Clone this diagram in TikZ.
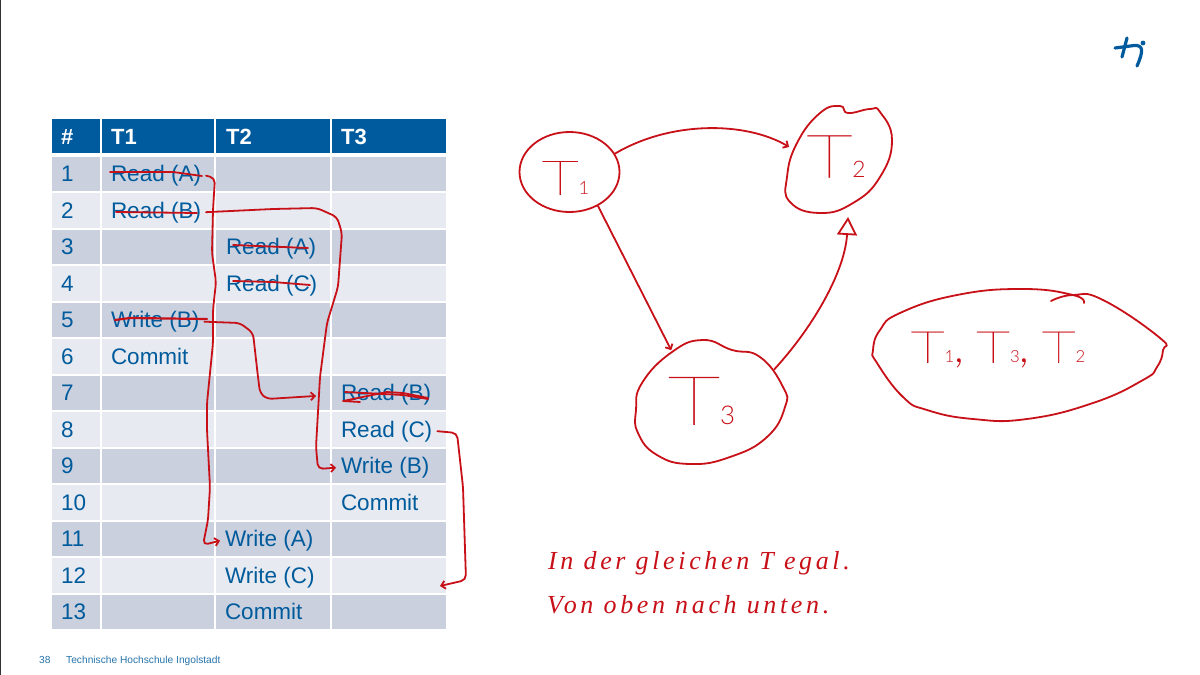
\documentclass[tikz,border=0pt]{standalone}
\usepackage{fontspec}
\setmainfont{Liberation Sans}
\newfontfamily\penfont[FakeBold=0.6]{Lato Thin}
\newfontfamily\digitfont{Lato Light}
\newfontfamily\notefont[LetterSpace=14]{Liberation Serif Italic}
\usetikzlibrary{arrows.meta,shapes.geometric}
\definecolor{headblue}{RGB}{0,90,158}
\definecolor{textblue}{RGB}{0,91,156}
\definecolor{rowdark}{RGB}{202,208,222}
\definecolor{rowlight}{RGB}{231,234,240}
\definecolor{pen}{RGB}{200,16,24}
\tikzstyle{cell}=[anchor=base west, inner sep=0pt, outer xsep=5pt, text=textblue, font=\fontsize{22.5}{24}\selectfont]
\tikzstyle{head}=[anchor=base west, inner sep=0pt, text=white, font=\bfseries\fontsize{22}{24}\selectfont]
\tikzstyle{ink}=[draw=pen, line width=1.8pt, line cap=round, line join=round]
\tikzstyle{wire}=[ink, rounded corners=5pt, -{Straight Barb[length=4pt,width=8pt]}]
\tikzstyle{gnode}=[ellipse, inner sep=0pt, text=pen, text centered]
\newcommand{\penT}[1]{\scalebox{1.35}[1]{T}\scalebox{.38}{\digitfont #1}}
\newcommand{\penmove}[3]{\raisebox{#2}[\height][\depth]{\kern#1\relax #3}}

\begin{document}
\begin{tikzpicture}[x=1pt, y=-1pt]
            \useasboundingbox (0,0) rectangle (1200,675);
            \fill[white] (0,0) rectangle (1200,675);
            \draw[black!80, line width=1.6pt] (0,0) -- (0,675);

            \fill[headblue] (52,119) rectangle (100,153);
            \fill[headblue] (102,119) rectangle (214,153);
            \fill[headblue] (216,119) rectangle (330,153);
            \fill[headblue] (332,119) rectangle (446,153);
            \node[head] (hnum) at (61,144) {\#};
            \node[head] (hone) at (111,144) {T1};
            \node[head] (htwo) at (226,144) {T2};
            \node[head] (hthree) at (341,144) {T3};

            \foreach \r in {1,...,13} {
                \pgfmathsetmacro{\rowtop}{156.5+(\r-1)*36.5}
                \pgfmathsetmacro{\rowbot}{\rowtop+34.8}
                \pgfmathsetmacro{\rowbase}{\rowtop+25}
                \pgfmathparse{int(mod(\r,2))}
                \ifnum\pgfmathresult=1 \colorlet{rowfill}{rowdark}\else \colorlet{rowfill}{rowlight}\fi
                \fill[rowfill] (52,\rowtop) rectangle (100,\rowbot);
                \fill[rowfill] (102,\rowtop) rectangle (214,\rowbot);
                \fill[rowfill] (216,\rowtop) rectangle (330,\rowbot);
                \fill[rowfill] (332,\rowtop) rectangle (446,\rowbot);
                \node[cell] (num\r) at (56,\rowbase) {\r};
            }

            \node[cell] (ra) at (106,181.5) {Read (A)};
            \node[cell] (rb) at (106,218) {Read (B)};
            \node[cell] (wb) at (106,327.5) {Write (B)};
            \node[cell] (cone) at (106,364) {Commit};
            \node[cell] (rat) at (221,254.5) {Read (A)};
            \node[cell] (rct) at (221,291) {Read (C)};
            \node[cell] (wat) at (220,546.5) {Write (A)};
            \node[cell] (wct) at (220,583) {Write (C)};
            \node[cell] (ctwo) at (220,619.5) {Commit};
            \node[cell] (rbh) at (336,400.5) {Read (B)};
            \node[cell] (rch) at (336,437) {Read (C)};
            \node[cell] (wbh) at (336,473.5) {Write (B)};
            \node[cell] (cthree) at (336,510) {Commit};

            \node[anchor=base west, inner sep=0pt, text=textblue!85, font=\fontsize{10.2}{12}\selectfont] (pageno) at (39,663) {38};
            \node[anchor=base west, inner sep=0pt, text=textblue!85, font=\fontsize{10.2}{12}\selectfont] (footer) at (66,663) {Technische Hochschule Ingolstadt};

            \draw[ink] (110,172) -- (173,172) -- (202,176);
            \draw[ink] (116,212) -- (197,213);
            \draw[ink] (233,245) -- (308,248);
            \draw[ink] (233,281) -- (273,282) -- (310,285);
            \draw[ink, line width=2.2pt] (115,320) -- (130,318) -- (207,319);
            \draw[ink] (345,392) -- (403,395) -- (428,399);
            \draw[ink] (360,402) -- (343,401) -- (387,392) -- (403,393) -- (428,398);

            \draw[wire] (ra.east) -- (215,178) -- (213,210) -- (212,253) -- (216,282) -- (213,310)
                -- (213,343) -- (207,403) -- (207,430) -- (210,487) -- (208,520) -- (203,545) -- (wat.west);
            \draw[wire] (rb.east) -- (273,209) -- (317,208) -- (337,217) -- (342,233) -- (338,287)
                -- (327,323) -- (320,377) -- (316,447) -- (318,469) -- (wbh.west);
            \draw[wire, shorten >=20pt] (wb.east) -- (240,323) -- (253,333) -- (258,377) -- (260,393)
                -- (267,399) -- (rbh.west);
            \coordinate (freeend) at (440,586);
            \draw[wire] (rch.east) -- (457,433) -- (463,487) -- (466,580) -- (freeend);

            \node[gnode, draw=pen, line width=1.8pt, minimum width=100pt, minimum height=80pt, font=\penfont\fontsize{48}{48}\selectfont] (tone) at (569.5,172) {\penmove{-8pt}{-6pt}{\penT{1}}};
            \node[gnode, minimum width=100pt, minimum height=116pt, font=\penfont\fontsize{60}{60}\selectfont] (ttwo) at (838,160) {\penmove{-4pt}{3.5pt}{\penT{2}}};
            \node[gnode, minimum width=150pt, minimum height=124pt, font=\penfont\fontsize{68}{68}\selectfont] (tthree) at (711,403) {\penmove{-19pt}{2pt}{\penT{3}}};
            \draw[ink] plot[smooth cycle, tension=0.8] coordinates {(848,113) (840,106) (820,113) (797,143) (787,177)
                (790,202) (820,213) (853,203) (880,177) (892,140) (880,112) (870,109)};
            \draw[ink] plot[smooth cycle, tension=0.8] coordinates {(672,352) (703,340) (732,350) (760,357) (783,387)
                (785,407) (767,437) (730,457) (690,464) (657,455) (638,433) (636,410) (642,383)};

            \draw[wire] (tone.22) .. controls (670,121) and (745,121) .. (ttwo.165);
            \draw[wire] (tone.-50) -- (tthree.127);
            \draw[ink, -{Triangle[open,length=18pt,width=20pt]}] (tthree.28) .. controls (815,325) and (845,270) .. (ttwo.-80);

            \node[gnode, font=\penfont\fontsize{44}{44}\selectfont] (order) at (998,350) {\penT{1}{\digitfont,}\kern.28em\penT{3}{\digitfont,}\kern.28em\penT{2}};
            \draw[ink] plot[smooth, tension=0.8] coordinates {(1084,303) (1073,295) (1023,289) (957,295) (900,313) (880,330) (873,350)
                (877,363) (903,397) (927,410) (973,419) (1027,419) (1093,403) (1143,380) (1157,367) (1163,350) (1160,338) (1103,300) (1073,295) (1051,301)};

            \node[anchor=base west, inner sep=0pt, text=pen, font=\notefont\fontsize{26}{26}\selectfont] (noteone) at (548,569) {In der gleichen T egal.};
            \node[anchor=base west, inner sep=0pt, text=pen, font=\notefont\fontsize{26}{26}\selectfont] (notetwo) at (547,613) {Von oben nach unten.};

            \draw[headblue, line width=3.2pt, line cap=round] (1115,48) -- (1134,45.5) .. controls (1143,45) and (1144,50) .. (1137,66);
            \draw[headblue, line width=3.2pt, line cap=round] (1127,38) -- (1122,57);
            \fill[headblue] (1143,43) circle (2.4pt);
        \end{tikzpicture}
\end{document}
